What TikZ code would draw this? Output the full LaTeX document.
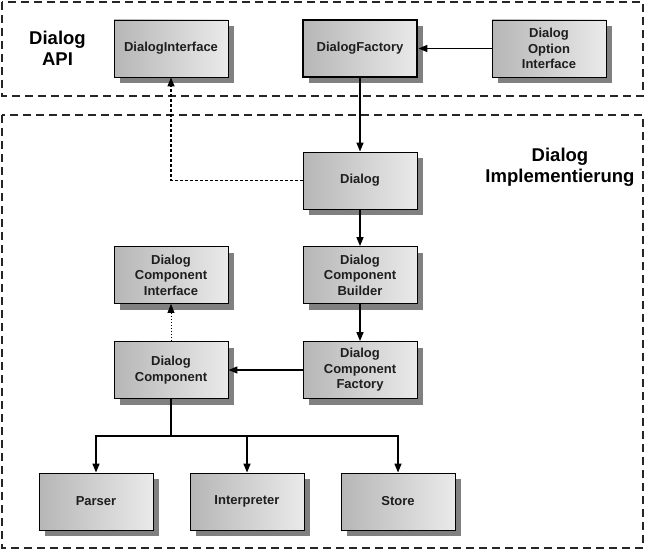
\documentclass[tikz,border=0pt]{standalone}
\usepackage{fontspec}
\setmainfont{Liberation Sans}
\usetikzlibrary{shadows,arrows.meta}
\definecolor{boxleft}{RGB}{182,182,182}
\definecolor{boxright}{RGB}{234,234,234}
\definecolor{shadowgray}{RGB}{128,128,128}
\definecolor{txt}{RGB}{30,30,30}
\begin{document}
\begin{tikzpicture}[x=1pt,y=-1pt,
  box/.style={draw=black, line width=0.9pt, minimum width=114pt, minimum height=57pt,
    inner sep=0pt, left color=boxleft, right color=boxright, align=center, text=txt,
    font=\bfseries\fontsize{13}{15.6}\selectfont,
    drop shadow={shadow xshift=6pt,shadow yshift=-6pt,fill=shadowgray,opacity=1}},
  thickbox/.style={box, line width=2.8pt},
  group/.style={draw=black!85, line width=1.5pt, dash pattern=on 8pt off 5pt},
  grouplabel/.style={align=center, font=\bfseries\fontsize{18.5}{21}\selectfont, text=black},
  arr/.style={draw=black, line width=1.4pt, -{Triangle[length=9pt,width=7pt]}},
  dotarr/.style={arr, dash pattern=on 3pt off 2pt, line width=1.3pt},
  fine/.style={arr, dash pattern=on 1.5pt off 1.5pt, line width=0.9pt}
]
\useasboundingbox (0,0) rectangle (645,551);
% group frames
\draw[group] (2,2) rectangle (643,96);
\draw[group] (2,115) rectangle (643,548);
\node[grouplabel] (api) at (57.5,48) {Dialog\\API};
\node[grouplabel] (impl) at (560,167) {Dialog\\Implementierung};
% boxes
\node[box] (di) at (171,48.5) {DialogInterface};
\node[thickbox] (df) at (360,48.5) {DialogFactory};
\node[box] (doi) at (549,48.5) {Dialog\\Option\\Interface};
\node[box] (dialog) at (360,180.5) {Dialog};
\node[box] (builder) at (360,275) {Dialog\\Component\\Builder};
\node[box] (cif) at (171,275) {Dialog\\Component\\Interface};
\node[box] (comp) at (171,370) {Dialog\\Component};
\node[box] (factory) at (360,370) {Dialog\\Component\\Factory};
\node[box] (parser) at (96,501.5) {Parser};
\node[box] (interp) at (247,501.5) {Interpreter};
\node[box] (store) at (398,501.5) {Store};
% connectors
\draw[arr] (doi.west) -- (df.east);
\draw[arr] (df.south) -- (dialog.north);
\draw[dotarr] (dialog.west) -| (di.south);
\draw[arr] (dialog.south) -- (builder.north);
\draw[arr] (builder.south) -- (factory.north);
\draw[arr] (factory.west) -- (comp.east);
\draw[fine] (comp.north) -- (cif.south);
\coordinate (bus) at (171,436);
\draw[draw=black, line width=1.4pt] (comp.south) -- (bus);
\draw[arr] (bus) -| (parser.north);
\draw[arr] (bus) -| (interp.north);
\draw[arr] (bus) -| (store.north);
\end{tikzpicture}
\end{document}
